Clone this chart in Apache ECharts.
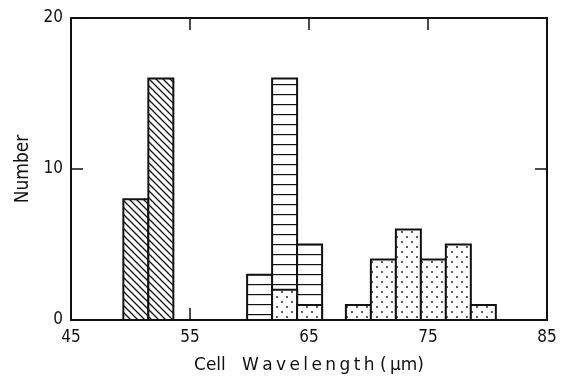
<!DOCTYPE html>
<html>
<head>
<meta charset="utf-8">
<script src="https://cdn.jsdelivr.net/npm/echarts@6/dist/echarts.min.js"></script>
<style>
  html, body { margin: 0; padding: 0; background: #fff; }
  #chart { width: 569px; height: 377px; }
</style>
</head>
<body>
<div id="chart"></div>
<script>
// histogram bins: left edge (µm) and count
const binWidth = 2.1;
const hatchedStart = [49.4, 51.5];
const hatchedCount = [8, 16];
const linedStart = [59.8, 61.9, 64.0];
const linedCount = [3, 16, 5];
const dottedStart = [61.9, 64.0, 68.1, 70.2, 72.3, 74.4, 76.5, 78.6];
const dottedCount = [2, 1, 1, 4, 6, 4, 5, 1];
const xTicks = [45, 55, 65, 75, 85];
const yTicks = [0, 10, 20];

const ink = '#111';
const thin = '\u2009';
const spaced = s => s.split('').join(thin);

function makePattern(kind) {
    const c = document.createElement('canvas');
    const ctx = c.getContext('2d');
    if (kind === 'diag') {
        const s = 7;
        c.width = s; c.height = s;
        ctx.fillStyle = '#fff';
        ctx.fillRect(0, 0, s, s);
        ctx.strokeStyle = ink;
        ctx.lineWidth = 1.3;
        ctx.beginPath();
        ctx.moveTo(-1, -1); ctx.lineTo(s + 1, s + 1);
        ctx.moveTo(-1, s - 1); ctx.lineTo(1, s + 1);
        ctx.moveTo(s - 1, -1); ctx.lineTo(s + 1, 1);
        ctx.stroke();
    } else if (kind === 'horiz') {
        c.width = 8; c.height = 10;
        ctx.fillStyle = '#fff';
        ctx.fillRect(0, 0, 8, 10);
        ctx.fillStyle = ink;
        ctx.fillRect(0, 4, 8, 1.2);
    } else {
        c.width = 10; c.height = 10;
        ctx.fillStyle = '#fff';
        ctx.fillRect(0, 0, 10, 10);
        ctx.fillStyle = ink;
        ctx.beginPath();
        ctx.arc(2, 2, 0.9, 0, Math.PI * 2);
        ctx.arc(7, 7, 0.9, 0, Math.PI * 2);
        ctx.fill();
    }
    return { image: c, repeat: 'repeat' };
}

const patterns = {
    diag: makePattern('diag'),
    horiz: makePattern('horiz'),
    dots: makePattern('dots')
};

function toBins(starts, counts) {
    return starts.map((s, i) => [s, s + binWidth, counts[i]]);
}

function histSeries(name, starts, counts, pattern) {
    return {
        name: name,
        type: 'custom',
        xAxisIndex: 0,
        yAxisIndex: 0,
        data: toBins(starts, counts),
        renderItem: function (params, api) {
            const p0 = api.coord([api.value(0), 0]);
            const p1 = api.coord([api.value(1), api.value(2)]);
            return {
                type: 'rect',
                shape: { x: p0[0], y: p1[1], width: p1[0] - p0[0], height: p0[1] - p1[1] },
                style: { fill: patterns[pattern], stroke: ink, lineWidth: 2 }
            };
        }
    };
}

const chart = echarts.init(document.getElementById('chart'), null, { renderer: 'canvas' });

const axisFont = { fontFamily: 'DejaVu Sans Condensed, DejaVu Sans', fontSize: 17, color: ink };
const line = { onZero: false, lineStyle: { color: ink, width: 2 } };
const tick = { show: true, inside: true, length: 12, lineStyle: { color: ink, width: 1.5 } };

const option = {
    backgroundColor: '#fff',
    animation: false,
    grid: { left: 71, right: 22, top: 18, bottom: 57, outerBoundsMode: 'none', containLabel: false },
    xAxis: [
        {
            type: 'value', position: 'bottom',
            min: 45, max: 85, interval: 10,
            axisLine: line,
            axisTick: tick,
            axisLabel: Object.assign({ margin: 9, formatter: v => xTicks.includes(v) ? String(v) : '' }, axisFont),
            splitLine: { show: false },
            name: 'Cell' + '   ' + spaced('Wavelength') + ' (' + thin + 'μm)',
            nameLocation: 'middle',
            nameGap: 37,
            nameTextStyle: { fontFamily: 'DejaVu Sans', fontSize: 17, color: ink }
        },
        {
            type: 'value', position: 'top',
            min: 45, max: 85, interval: 10,
            axisLine: line,
            axisTick: tick,
            axisLabel: { show: false },
            splitLine: { show: false }
        }
    ],
    yAxis: [
        {
            type: 'value', position: 'left',
            min: 0, max: 20, interval: 10,
            axisLine: Object.assign({ show: true }, line),
            axisTick: tick,
            axisLabel: Object.assign({ margin: 8, formatter: v => yTicks.includes(v) ? String(v) : '' }, axisFont),
            splitLine: { show: false },
            name: 'Number',
            nameLocation: 'middle',
            nameRotate: 90,
            nameGap: 38,
            nameTextStyle: { fontFamily: 'DejaVu Sans Condensed, DejaVu Sans', fontSize: 19, color: ink }
        },
        {
            type: 'value', position: 'right',
            min: 0, max: 20, interval: 10,
            axisLine: Object.assign({ show: true }, line),
            axisTick: tick,
            axisLabel: { show: false },
            splitLine: { show: false }
        }
    ],
    series: [
        histSeries('hatched', hatchedStart, hatchedCount, 'diag'),
        histSeries('lined', linedStart, linedCount, 'horiz'),
        histSeries('dotted', dottedStart, dottedCount, 'dots')
    ]
};

chart.setOption(option);
window.addEventListener('resize', function () {
    chart.resize();
});
</script>
</body>
</html>
